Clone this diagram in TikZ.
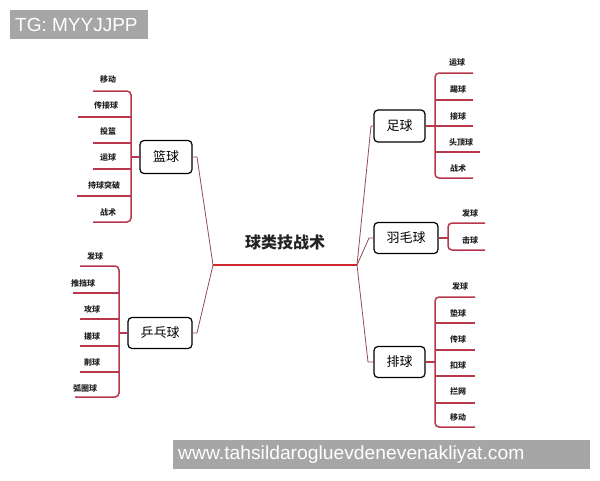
\documentclass[tikz,border=0pt]{standalone}
\usepackage{fontspec}
\newfontfamily\cjk{Noto Sans CJK SC}
\newfontfamily\wmfont{Liberation Sans}
\definecolor{brc}{RGB}{185,55,75}
\definecolor{cnc}{RGB}{150,75,85}
\definecolor{ctr}{RGB}{205,40,45}
\definecolor{wmg}{RGB}{166,166,166}
\definecolor{txt}{RGB}{35,35,35}
\tikzset{
  leaf/.style={inner sep=0pt, font=\cjk\bfseries\fontsize{8}{8}\selectfont, text=txt},
  topic/.style={draw=black, line width=1.2pt, rounded corners=4pt, inner sep=0pt, font=\cjk\fontsize{13}{13}\selectfont},
  br/.style={draw=brc, line width=1.5pt, rounded corners=4pt},
  cn/.style={draw=cnc, line width=0.8pt},
  wm/.style={fill=wmg, text=white, font=\wmfont\fontsize{19}{19}\selectfont, inner sep=0pt, anchor=west}
}
\begin{document}
\begin{tikzpicture}[x=1pt,y=-1pt]
\useasboundingbox (0,0) rectangle (600,480);
\fill[white] (0,0) rectangle (600,480);
% watermarks
\fill[wmg] (10,10) rectangle (148,39);
\node[wm] (wm1) at (15,25) {TG: MYYJJPP};
\fill[wmg] (173,440) rectangle (590,469);
\node[wm, xscale=1.015] (wm2) at (178,455) {www.tahsildarogluevdenevenakliyat.com};
% centre
\node[inner sep=0pt, font=\cjk\bfseries\fontsize{16}{16}\selectfont, text=txt] (center) at (285,242) {球类技战术};
\coordinate (cl) at (213,265);
\coordinate (cr) at (357,265);
\draw[draw=ctr, line width=2.5pt] (cl) -- (cr);
% topic boxes
\node[topic, minimum width=52pt, minimum height=33pt] (lanqiu) at (166,157) {篮球};
\node[topic, minimum width=64pt, minimum height=31pt] (pingpang) at (160,333) {乒乓球};
\node[topic, minimum width=51pt, minimum height=32pt] (zuqiu) at (399.5,126) {足球};
\node[topic, minimum width=64pt, minimum height=31pt] (yumao) at (406,238) {羽毛球};
\node[topic, minimum width=51pt, minimum height=31pt] (paiqiu) at (399.5,362) {排球};
% connectors centre -> topics
\draw[cn] (cl) -- (197,157) -- (lanqiu.east);
\draw[cn] (cl) -- (197,333) -- (pingpang.east);
\draw[cn] (cr) -- (371,126) -- (zuqiu.west);
\draw[cn] (cr) -- (369,238) -- (yumao.west);
\draw[cn] (cr) -- (368,362) -- (paiqiu.west);
% basketball leaves
\foreach \i/\y/\lx/\tx/\ty/\t in {1/91/93/108/79/移动, 2/117/78/106/105/传接球, 3/143/93/108/131/投篮, 4/169/93/108/158/运球, 5/196/77/104/185/持球突破, 6/222/93/108/212/战术}{
  \coordinate (lbl\i) at (\lx,\y);
  \coordinate (lbb\i) at (131,\y);
  \node[leaf] (lbt\i) at (\tx,\ty) {\t};
}
\draw[br] (lbl1) -- (lbb1) -- (lbb6) -- (lbl6);
\foreach \i in {2,...,5} \draw[br] (lbl\i) -- (lbb\i);
\coordinate (lbs) at (131,157);
\draw[br] (lbs) -- (lanqiu.west);
% ping pong leaves
\foreach \i/\y/\lx/\tx/\ty/\t in {1/266/80/95/256/发球, 2/293/73/83/283/推挡球, 3/319/80/92/309/攻球, 4/346/80/92/336/搓球, 5/372/80/92/362/削球, 6/397/75/85/388/弧圈球}{
  \coordinate (ppl\i) at (\lx,\y);
  \coordinate (ppb\i) at (119,\y);
  \node[leaf] (ppt\i) at (\tx,\ty) {\t};
}
\draw[br] (ppl1) -- (ppb1) -- (ppb6) -- (ppl6);
\foreach \i in {2,...,5} \draw[br] (ppl\i) -- (ppb\i);
\coordinate (pps) at (119,333);
\draw[br] (pps) -- (pingpang.west);
% soccer leaves
\foreach \i/\y/\rx/\tx/\ty/\t in {1/73/473/457/63/运球, 2/100/473/458/89/踢球, 3/126/473/458/116/接球, 4/152/480/461/142/头顶球, 5/178/473/458/168/战术}{
  \coordinate (zql\i) at (\rx,\y);
  \coordinate (zqb\i) at (435,\y);
  \node[leaf] (zqt\i) at (\tx,\ty) {\t};
}
\draw[br] (zql1) -- (zqb1) -- (zqb5) -- (zql5);
\foreach \i in {2,...,4} \draw[br] (zql\i) -- (zqb\i);
\coordinate (zqs) at (435,126);
\draw[br] (zuqiu.east) -- (zqs);
% badminton leaves
\foreach \i/\y/\tx/\ty/\t in {1/223/470/213/发球, 2/250/470/240/击球}{
  \coordinate (yml\i) at (485,\y);
  \coordinate (ymb\i) at (448,\y);
  \node[leaf] (ymt\i) at (\tx,\ty) {\t};
}
\draw[br] (yml1) -- (ymb1) -- (ymb2) -- (yml2);
\coordinate (yms) at (448,238);
\draw[br] (yumao.east) -- (yms);
% volleyball leaves
\foreach \i/\y/\tx/\ty/\t in {1/297/460/286/发球, 2/323/458/313/垫球, 3/350/458/339/传球, 4/376/458/365/扣球, 5/403/458/391/拦网, 6/427/458/417/移动}{
  \coordinate (pql\i) at (475,\y);
  \coordinate (pqb\i) at (435,\y);
  \node[leaf] (pqt\i) at (\tx,\ty) {\t};
}
\draw[br] (pql1) -- (pqb1) -- (pqb6) -- (pql6);
\foreach \i in {2,...,5} \draw[br] (pql\i) -- (pqb\i);
\coordinate (pqs) at (435,362);
\draw[br] (paiqiu.east) -- (pqs);
\end{tikzpicture}
\end{document}
